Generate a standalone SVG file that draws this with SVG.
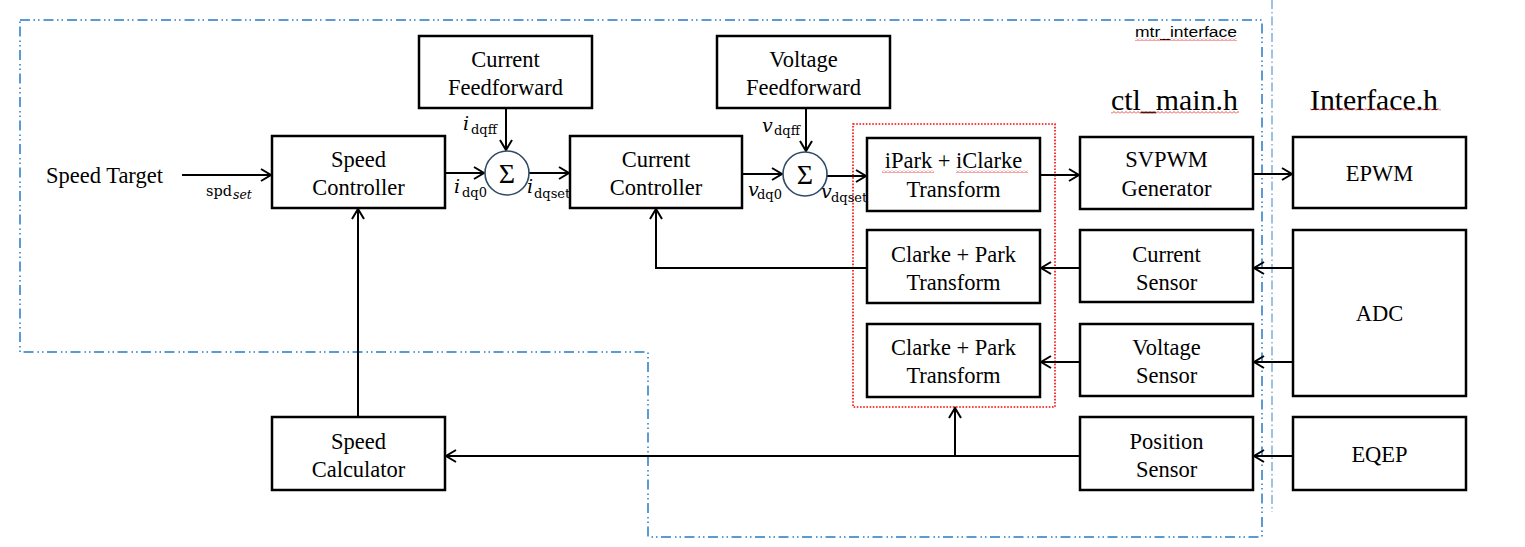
<svg xmlns="http://www.w3.org/2000/svg" width="1525" height="547" viewBox="0 0 1525 547">
<style>
.box{fill:#fff;stroke:#000;stroke-width:2.5}
.t{font-family:"Liberation Serif","Times New Roman",serif;font-size:22.5px;fill:#000;text-anchor:middle}
.h{font-family:"Liberation Serif","Times New Roman",serif;font-size:30px;fill:#000}
.c{fill:none;stroke:#000;stroke-width:2}
.sum{fill:#fff;stroke:#2f4b66;stroke-width:1.6}
.m{font-family:"DejaVu Serif",serif;font-style:italic;font-size:19px;fill:#000}
.s{font-family:"DejaVu Serif",serif;font-size:13px;fill:#000}
</style>
<defs>
<marker id="arr" markerUnits="userSpaceOnUse" markerWidth="14" markerHeight="16" refX="11" refY="7" orient="auto" viewBox="0 0 14 14">
<path d="M1,1 L11,7 L1,13" fill="none" stroke="#000" stroke-width="2"/>
</marker>
<pattern id="wave" width="4" height="3" patternUnits="userSpaceOnUse">
<path d="M0,2.5 L2,0.5 L4,2.5" fill="none" stroke="#e02020" stroke-width="0.8"/>
</pattern>
</defs>
<rect width="1525" height="547" fill="#fff"/>
<g id="boundaries">
<path d="M20,20 H1262 V537 H648 V352 H20 Z" fill="none" stroke="#5b9bd5" stroke-width="2" stroke-dasharray="10 3.5 1.5 3 1.5 4"/>
<line x1="1272" y1="0" x2="1272" y2="512" stroke="#5b9bd5" stroke-width="1.2" stroke-dasharray="9 3 1.5 3"/>
<rect x="853" y="124" width="202" height="283" fill="none" stroke="#ff0000" stroke-width="1.6" stroke-dasharray="1.6 1.6"/>
</g>
<g id="labels">
<text x="1135" y="37" font-family="Liberation Sans, Arial, sans-serif" font-size="15.5" textLength="102" lengthAdjust="spacingAndGlyphs">mtr_interface</text>
<rect x="1135" y="38" width="102" height="3" fill="url(#wave)"/>
<text class="h" x="1111" y="110" textLength="127" lengthAdjust="spacingAndGlyphs">ctl_main.h</text>
<rect x="1111" y="111" width="128" height="3" fill="url(#wave)"/>
<text class="h" x="1310" y="110" textLength="128" lengthAdjust="spacingAndGlyphs">Interface.h</text>
<rect x="1310" y="108" width="131" height="3" fill="url(#wave)"/>
<text x="46" y="183" font-family="Liberation Serif, Times New Roman, serif" font-size="22.5">Speed Target</text>
<text x="206" y="196" font-family="DejaVu Serif, serif" font-size="14.5">spd</text>
<text x="233" y="199" font-family="DejaVu Serif, serif" font-style="italic" font-size="12.5">set</text>
<text class="m" x="463" y="130">i</text><text class="s" x="471" y="134">dqff</text>
<text class="m" x="454" y="193">i</text><text class="s" x="462" y="197">dq0</text>
<text class="m" x="527" y="193">i</text><text class="s" x="534" y="198">dqset</text>
<text class="m" x="762" y="132">v</text><text class="s" x="774" y="135">dqff</text>
<text class="m" x="748" y="196">v</text><text class="s" x="757" y="199">dq0</text>
<text class="m" x="821" y="198">v</text><text class="s" x="831" y="202">dqset</text>
</g>
<g id="connectors" class="c">
<line x1="182" y1="175" x2="271" y2="175" marker-end="url(#arr)"/>
<line x1="446" y1="173" x2="484" y2="173" marker-end="url(#arr)"/>
<line x1="506" y1="109" x2="506" y2="150" marker-end="url(#arr)"/>
<line x1="529" y1="173" x2="569" y2="173" marker-end="url(#arr)"/>
<line x1="743" y1="174" x2="782" y2="174" marker-end="url(#arr)"/>
<line x1="806" y1="109" x2="806" y2="151" marker-end="url(#arr)"/>
<line x1="827" y1="176" x2="866" y2="176" marker-end="url(#arr)"/>
<line x1="1041" y1="175" x2="1079" y2="175" marker-end="url(#arr)"/>
<line x1="1254" y1="174" x2="1292" y2="174" marker-end="url(#arr)"/>
<line x1="1292" y1="268" x2="1254" y2="268" marker-end="url(#arr)"/>
<line x1="1292" y1="362" x2="1254" y2="362" marker-end="url(#arr)"/>
<line x1="1292" y1="456" x2="1254" y2="456" marker-end="url(#arr)"/>
<line x1="1079" y1="268" x2="1041" y2="268" marker-end="url(#arr)"/>
<line x1="1079" y1="362" x2="1041" y2="362" marker-end="url(#arr)"/>
<polyline points="867,268 656,268 656,209" marker-end="url(#arr)"/>
<line x1="1080" y1="456" x2="446" y2="456" marker-end="url(#arr)"/>
<line x1="955" y1="456" x2="955" y2="408" marker-end="url(#arr)"/>
<line x1="358" y1="417" x2="358" y2="209" marker-end="url(#arr)"/>
</g>
<g id="current-ff"><rect class="box" x="419" y="36" width="173" height="72"/><text class="t" x="505.5" y="67">Current</text><text class="t" x="505.5" y="95">Feedforward</text></g>
<g id="voltage-ff"><rect class="box" x="717" y="36" width="173" height="72"/><text class="t" x="803.5" y="67">Voltage</text><text class="t" x="803.5" y="95">Feedforward</text></g>
<g id="speed-controller"><rect class="box" x="272" y="136" width="173" height="72"/><text class="t" x="358.5" y="167">Speed</text><text class="t" x="358.5" y="195">Controller</text></g>
<g id="sum1"><circle class="sum" cx="507" cy="173" r="22"/><text x="507" y="183" font-family="Liberation Serif, serif" font-size="28" text-anchor="middle">Σ</text></g>
<g id="current-controller"><rect class="box" x="570" y="136" width="172" height="72"/><text class="t" x="656" y="167">Current</text><text class="t" x="656" y="195">Controller</text></g>
<g id="sum2"><circle class="sum" cx="805" cy="174" r="22"/><text x="805" y="184" font-family="Liberation Serif, serif" font-size="28" text-anchor="middle">Σ</text></g>
<g id="ipark"><rect class="box" x="867" y="138" width="173" height="73"/><text class="t" x="953.5" y="168">iPark + iClarke</text><text class="t" x="953.5" y="197">Transform</text>
<rect x="882" y="170" width="52" height="3" fill="url(#wave)"/><rect x="956" y="170" width="72" height="3" fill="url(#wave)"/></g>
<g id="svpwm"><rect class="box" x="1080" y="137" width="173" height="72"/><text class="t" x="1166.5" y="167">SVPWM</text><text class="t" x="1166.5" y="196">Generator</text></g>
<g id="clarke1"><rect class="box" x="867" y="230" width="173" height="73"/><text class="t" x="953.5" y="262">Clarke + Park</text><text class="t" x="953.5" y="290">Transform</text></g>
<g id="clarke2"><rect class="box" x="867" y="324" width="173" height="73"/><text class="t" x="953.5" y="355">Clarke + Park</text><text class="t" x="953.5" y="383">Transform</text></g>
<g id="current-sensor"><rect class="box" x="1080" y="230" width="173" height="72"/><text class="t" x="1166.5" y="262">Current</text><text class="t" x="1166.5" y="290">Sensor</text></g>
<g id="voltage-sensor"><rect class="box" x="1080" y="324" width="173" height="72"/><text class="t" x="1166.5" y="355">Voltage</text><text class="t" x="1166.5" y="383">Sensor</text></g>
<g id="position-sensor"><rect class="box" x="1080" y="417" width="173" height="73"/><text class="t" x="1166.5" y="449">Position</text><text class="t" x="1166.5" y="477">Sensor</text></g>
<g id="speed-calculator"><rect class="box" x="272" y="417" width="173" height="73"/><text class="t" x="358.5" y="449">Speed</text><text class="t" x="358.5" y="477">Calculator</text></g>
<g id="epwm"><rect class="box" x="1293" y="137" width="173" height="71"/><text class="t" x="1379.5" y="181">EPWM</text></g>
<g id="adc"><rect class="box" x="1293" y="230" width="173" height="166"/><text class="t" x="1379.5" y="321">ADC</text></g>
<g id="eqep"><rect class="box" x="1293" y="417" width="173" height="73"/><text class="t" x="1379.5" y="462">EQEP</text></g>
</svg>
